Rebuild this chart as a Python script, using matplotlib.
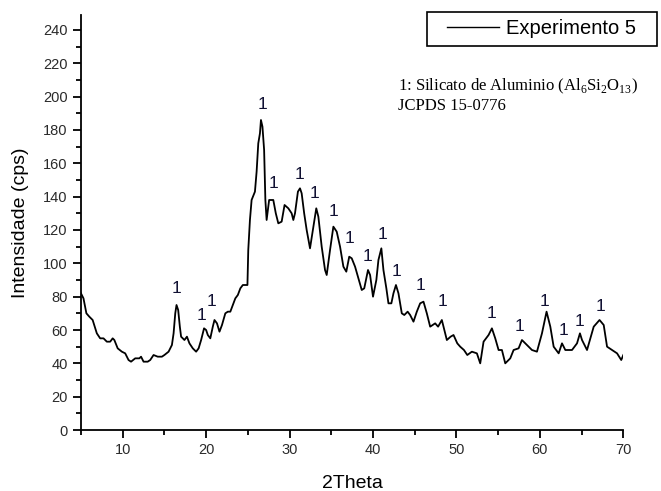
import numpy as np
import matplotlib.pyplot as plt
from matplotlib.lines import Line2D
from matplotlib.patches import Rectangle

plt.rcParams['font.family'] = ['Liberation Sans', 'DejaVu Sans']
plt.rcParams['mathtext.fontset'] = 'custom'
plt.rcParams['mathtext.rm'] = 'Liberation Serif'

# ---- data ----
two_theta = [
    5.0, 5.3, 5.65, 6.0, 6.4, 6.9, 7.3, 7.7, 8.1, 8.5, 8.8, 9.0, 9.4, 9.9,
    10.3, 10.7, 11.0, 11.5, 12.0, 12.2, 12.5, 13.0, 13.3, 13.7, 14.2, 14.7,
    15.0, 15.5, 15.9, 16.1, 16.3, 16.45, 16.65, 16.85, 17.0, 17.4, 17.7,
    18.0, 18.4, 18.8, 19.1, 19.4, 19.75, 20.0, 20.2, 20.5, 20.8, 21.0, 21.3,
    21.6, 21.9, 22.3, 22.6, 22.9, 23.2, 23.5, 23.8, 24.1, 24.4, 24.7, 24.95,
    25.05, 25.25, 25.45, 25.85, 26.05, 26.25, 26.45, 26.57, 26.75, 26.95,
    27.1, 27.25, 27.55, 28.05, 28.35, 28.65, 29.05, 29.4, 29.85, 30.25,
    30.45, 30.65, 31.0, 31.25, 31.45, 31.75, 32.05, 32.45, 32.85, 33.2,
    33.45, 33.85, 34.25, 34.45, 34.85, 35.25, 35.65, 36.05, 36.45, 36.8,
    37.15, 37.45, 37.85, 38.25, 38.65, 38.95, 39.4, 39.65, 40.0, 40.4,
    40.65, 41.0, 41.25, 41.6, 41.85, 42.2, 42.45, 42.75, 43.05, 43.45,
    43.75, 44.15, 44.45, 44.85, 45.25, 45.65, 46.05, 46.45, 46.85, 47.45,
    47.8, 48.25, 48.85, 49.3, 49.65, 50.1, 50.45, 50.9, 51.3, 51.85, 52.45,
    52.85, 53.25, 53.85, 54.25, 54.65, 55.05, 55.45, 55.85, 56.45, 56.85,
    57.45, 57.85, 58.45, 59.05, 59.65, 60.25, 60.8, 61.25, 61.65, 62.25,
    62.65, 63.05, 63.85, 64.45, 64.8, 65.05, 65.65, 66.45, 67.15, 67.65,
    68.05, 68.65, 69.25, 69.75, 70.0,
]
counts = [
    82, 79, 70, 68, 66, 58, 55, 55, 53, 53, 55, 54, 49, 47,
    46, 42, 41, 43, 43, 44, 41, 41, 42, 45, 44, 44,
    45, 47, 51, 58, 70, 75, 72, 62, 56, 54, 56,
    52, 49, 47, 49, 54, 61, 60, 57, 55, 62, 66, 64,
    59, 63, 70, 71, 71, 75, 79, 81, 85, 87, 87, 87,
    108, 126, 138, 143, 155, 172, 178, 186, 182, 168,
    138, 126, 138, 138, 130, 124, 125, 135, 133, 130,
    126, 130, 143, 145, 142, 130, 120, 109, 122, 133,
    128, 110, 96, 93, 108, 122, 119, 110, 98, 95,
    104, 103, 98, 91, 84, 85, 96, 93, 80, 90,
    102, 109, 96, 85, 76, 76, 82, 87, 82, 70,
    69, 71, 69, 65, 71, 76, 77, 70, 62, 64,
    62, 66, 54, 56, 57, 52, 50, 48, 45, 47, 46,
    40, 53, 57, 61, 55, 48, 48, 40, 43, 48,
    49, 54, 51, 48, 47, 58, 71, 62, 50, 46,
    52, 48, 48, 52, 58, 54, 48, 62, 66, 63,
    50, 48, 46, 42, 45,
]

# peak markers "1" (Silicato de Aluminio)
peak_x = [16.4, 19.5, 20.7, 26.7, 28.1, 31.15, 33.0, 35.25, 37.2, 39.35,
          41.1, 42.8, 45.7, 48.3, 54.15, 57.5, 60.5, 62.85, 64.8, 67.25]
peak_y = [85, 69, 77, 195, 148, 153, 142, 131, 115, 104,
          117, 95, 87, 77, 70, 62, 77, 60, 65, 74]

fig = plt.figure(figsize=(6.61, 4.91), dpi=100)
ax = fig.add_axes([0.1225, 0.1242, 0.8205, 0.8453])

ax.plot(two_theta, counts, color='black', linewidth=1.3, label='Experimento 5')

for px, py in zip(peak_x, peak_y):
    ax.text(px, py, '1', ha='center', va='center', fontsize=12.5, color='#111133')

ax.set_xlim(5, 70)
ax.set_ylim(0, 249)
ax.set_xticks(np.arange(10, 71, 10))
ax.set_xticks(np.arange(5, 71, 5), minor=True)
ax.set_yticks(np.arange(0, 241, 20))
ax.set_yticks(np.arange(0, 250, 10), minor=True)
ax.tick_params(which='major', direction='out', length=6, width=1.3, labelsize=10.5, colors='black',
               labelcolor='#2a2a2a')
ax.tick_params(which='minor', direction='out', length=3.5, width=1.3)
for side in ['top', 'right']:
    ax.spines[side].set_visible(False)
for side in ['left', 'bottom']:
    ax.spines[side].set_linewidth(1.3)

ax.set_xlabel('2Theta', fontsize=14, labelpad=13)
ax.set_ylabel('Intensidade (cps)', fontsize=14, labelpad=10)

# legend with a hand-placed frame
W, H = 661, 491
fig.patches.append(Rectangle((427 / W, 1 - 45.5 / H), 230 / W, 33.5 / H, transform=fig.transFigure,
                             fill=False, edgecolor='black', linewidth=1.2))
fig.legend(handles=[Line2D([], [], color='black', linewidth=1.0)], labels=['Experimento 5'],
           loc='center left', bbox_to_anchor=(447 / W, 1 - 28.5 / H), frameon=False,
           borderpad=0, borderaxespad=0, handlelength=2.6, handletextpad=0.35, fontsize=14.5)

fig.text(398 / W, 1 - 86 / H, r'1: Silicato de Aluminio (Al$_\mathrm{6}$Si$_\mathrm{2}$O$_\mathrm{13}$)',
         family='Liberation Serif', fontsize=12, va='center', ha='left')
fig.text(398 / W, 1 - 106 / H, 'JCPDS 15-0776', family='Liberation Serif', fontsize=12,
         va='center', ha='left')

fig.savefig('out.png', dpi=100)
